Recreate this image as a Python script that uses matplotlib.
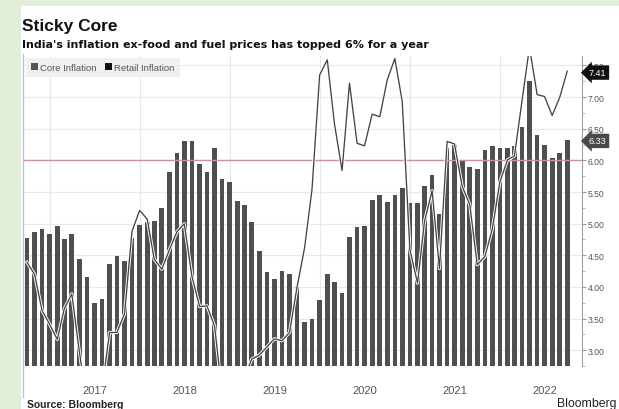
import numpy as np
import pandas as pd
import matplotlib
matplotlib.use("Agg")
import matplotlib.pyplot as plt
import matplotlib.dates as mdates
import matplotlib.patheffects as pe
from matplotlib.patches import Patch, Rectangle
from matplotlib.lines import Line2D
from matplotlib.ticker import MultipleLocator, FormatStrFormatter

plt.rcParams['font.family'] = ['Liberation Sans', 'DejaVu Sans']

# Monthly readings, Sep 2016 - Sep 2022 (% y/y)
months = pd.date_range('2016-09-30', periods=73, freq='ME')

core_inflation = [
    4.78, 4.87, 4.91, 4.83,
    4.96, 4.75, 4.84, 4.44, 4.15, 3.75, 3.81, 4.37, 4.49, 4.41, 4.77, 4.98,
    5.02, 5.04, 5.24, 5.81, 6.12, 6.30, 6.30, 5.95, 5.82, 6.20, 5.70, 5.66,
    5.36, 5.30, 5.03, 4.56, 4.23, 4.13, 4.25, 4.20, 4.00, 3.45, 3.50, 3.79,
    4.20, 4.08, 3.91, 4.79, 4.94, 4.97, 5.37, 5.45, 5.35, 5.46, 5.57, 5.33,
    5.33, 5.60, 5.77, 5.16, 6.19, 6.24, 6.00, 5.89, 5.86, 6.17, 6.22, 6.19,
    6.19, 6.22, 6.53, 7.25, 6.40, 6.24, 6.04, 6.11, 6.33,
]

retail_inflation = [
    4.39, 4.20, 3.63, 3.41,
    3.17, 3.65, 3.89, 2.99, 2.18, 1.46, 2.36, 3.28, 3.28, 3.58, 4.88, 5.21,
    5.07, 4.44, 4.28, 4.58, 4.87, 5.00, 4.17, 3.69, 3.70, 3.38, 2.33, 2.19,
    1.97, 2.57, 2.86, 2.92, 3.05, 3.18, 3.15, 3.28, 3.99, 4.62, 5.54, 7.35,
    7.59, 6.58, 5.84, 7.22, 6.27, 6.23, 6.73, 6.69, 7.27, 7.61, 6.93, 4.59,
    4.06, 5.03, 5.52, 4.29, 6.30, 6.26, 5.59, 5.30, 4.35, 4.48, 4.91, 5.66,
    6.01, 6.07, 6.95, 7.79, 7.04, 7.01, 6.71, 7.00, 7.41,
]

threshold = 6.0
series_labels = ['Core Inflation', 'Retail Inflation']
title = 'Sticky Core'
subtitle = "India's inflation ex-food and fuel prices has topped 6% for a year"

W, H = 619, 410
fig = plt.figure(figsize=(W / 100, H / 100), dpi=100)
fig.patch.set_facecolor('#e2eed7')

def fx(px):
    return px / W

def fy(py):
    return 1 - py / H

# white card
fig.add_artist(Rectangle((fx(21), 0), 1 - fx(21), fy(7), transform=fig.transFigure,
                         facecolor='white', edgecolor='none', zorder=-1))
fig.add_artist(Line2D([fx(23), fx(23)], [fy(55), fy(398)], transform=fig.transFigure,
                      color='#c4c4c4', lw=1.0))

ax = fig.add_axes([fx(23), fy(367), fx(582) - fx(23), fy(57) - fy(367)])
ax.set_facecolor('white')

ax.bar(months, core_inflation, width=19, color='#4f4f4f', edgecolor='none', zorder=2)
ax.axhline(threshold, color='#d98b9c', lw=1.0, zorder=3)
ax.plot(months, retail_inflation, color='#444444', lw=0.95, zorder=4,
        path_effects=[pe.Stroke(linewidth=2.3, foreground='white'), pe.Normal()])

ax.set_xlim(pd.Timestamp('2016-09-14'), pd.Timestamp('2022-11-29'))
ax.set_ylim(2.75, 7.65)

# x axis: gridlines at year starts, labels mid-year
ax.xaxis.set_major_locator(mdates.YearLocator())
ax.xaxis.set_major_formatter(plt.NullFormatter())
ax.xaxis.set_minor_locator(mdates.MonthLocator(bymonth=7, bymonthday=1))
ax.xaxis.set_minor_formatter(mdates.DateFormatter('%Y'))
ax.tick_params(axis='x', which='both', length=0, pad=14, labelsize=8, labelcolor='#555555')

# y axis on the right
ax.yaxis.tick_right()
ax.yaxis.set_major_locator(MultipleLocator(0.5))
ax.yaxis.set_minor_locator(MultipleLocator(0.25))
ax.yaxis.set_major_formatter(FormatStrFormatter('%.2f'))
ax.tick_params(axis='y', which='major', length=3, width=0.8, color='#999999',
               labelsize=6.2, labelcolor='#555555', pad=1)
ax.tick_params(axis='y', which='minor', length=2, width=0.6, color='#aaaaaa')

ax.grid(True, which='major', color='#e8e8e8', lw=0.8, zorder=0)
ax.set_axisbelow(True)
for side in ('left', 'top', 'bottom'):
    ax.spines[side].set_visible(False)
ax.spines['right'].set_color('#a0a0a0')
ax.spines['right'].set_linewidth(0.8)

# last-value tags
for val, fc in [(retail_inflation[-1], '#111111'), (core_inflation[-1], '#4a4a4a')]:
    ax.annotate(f'{val:.2f}', xy=(1, val), xycoords=('axes fraction', 'data'),
                xytext=(5, -1), textcoords='offset points', ha='left', va='center',
                fontsize=6.5, color='white', annotation_clip=False, zorder=6,
                bbox=dict(boxstyle='larrow,pad=0.3', fc=fc, ec='none'))

handles = [Patch(facecolor='#555555'), Patch(facecolor='#111111')]
leg = ax.legend(handles, series_labels, loc='upper left', bbox_to_anchor=(0.005, 0.994),
                borderaxespad=0, ncol=2, frameon=True, fancybox=False,
                facecolor='#f0f0f0', edgecolor='none', framealpha=1,
                fontsize=6.8, labelcolor='#555555', handlelength=0.7, handleheight=0.7,
                handletextpad=0.25, columnspacing=0.9, borderpad=0.55)
leg.set_zorder(5)

fig.text(fx(22), fy(30.5), title, fontsize=12.5, fontweight='bold', color='#111111', va='baseline')
fig.text(fx(22), fy(47.5), subtitle, fontsize=8, fontweight='bold', color='#111111',
         va='baseline', family=['DejaVu Sans'])
fig.text(fx(27), fy(400), 'Source: Bloomberg', fontsize=7.5, fontweight='bold',
         color='#222222', va='top')
fig.text(fx(616), fy(398), 'Bloomberg', fontsize=8.8, color='#222222', va='top', ha='right')

fig.savefig('out.png', dpi=100, facecolor=fig.get_facecolor())
